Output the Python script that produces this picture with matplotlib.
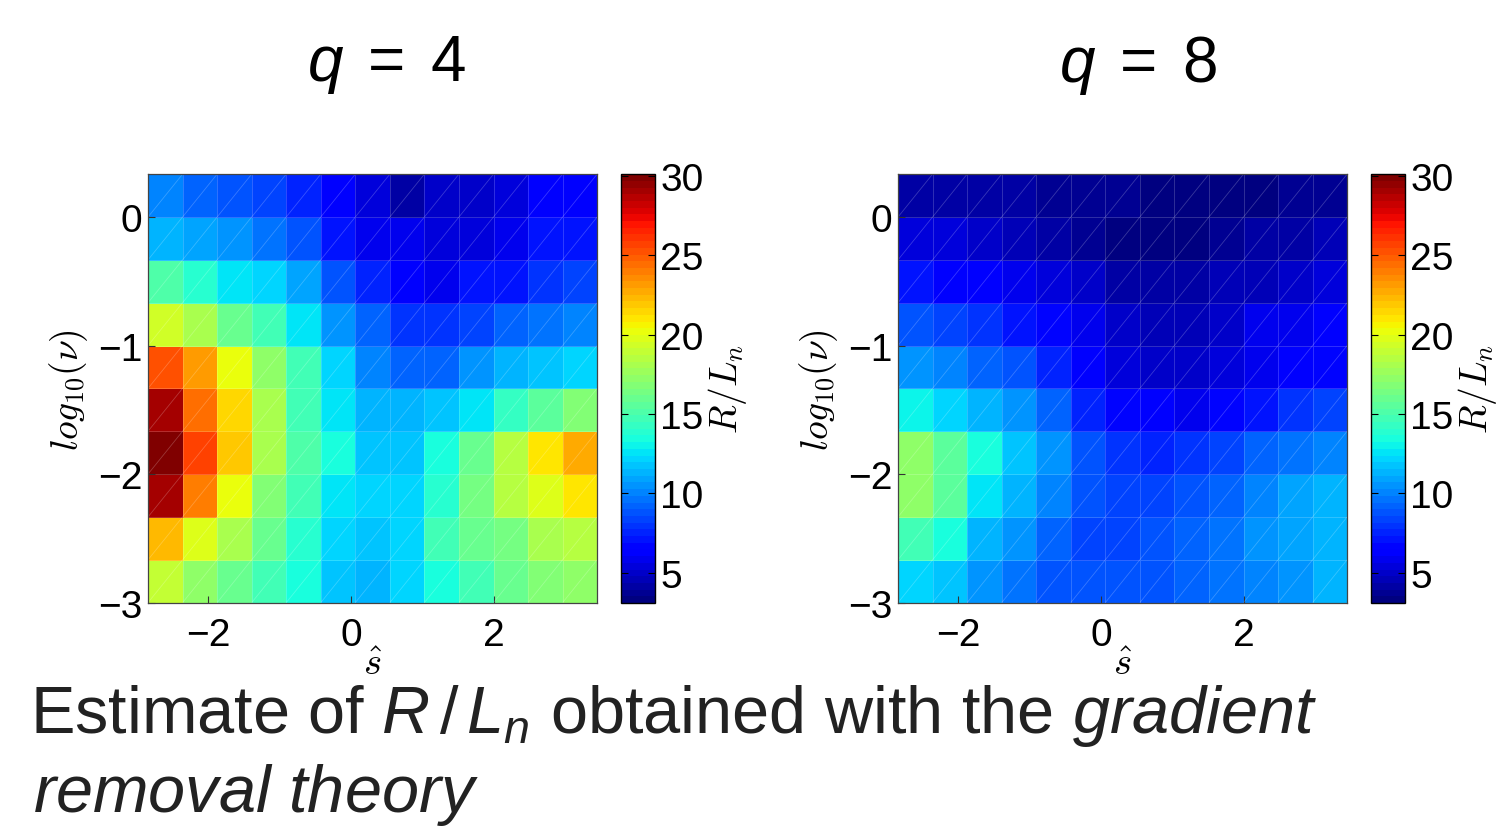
import numpy as np
import matplotlib
matplotlib.use("Agg")
import matplotlib.pyplot as plt
from matplotlib.collections import LineCollection

plt.rcParams['font.family'] = ['Liberation Sans', 'DejaVu Sans']
plt.rcParams['mathtext.fontset'] = 'custom'
plt.rcParams['mathtext.rm'] = 'Liberation Sans'
plt.rcParams['mathtext.it'] = 'Liberation Sans:italic'
plt.rcParams['axes.unicode_minus'] = True

# grid: magnetic shear (columns) and log10 collisionality (rows)
s_hat = np.linspace(-2.6, 3.2, 13)
log_nu = np.linspace(-2.83, 0.17, 10)

# R/L_n estimates, rows listed from top (log_nu = 0.17) to bottom (log_nu = -2.83)
rln_q4 = [
    [10.0, 9.3, 9.0, 8.3, 7.7, 6.1, 5.6, 4.0, 4.8, 5.0, 5.3, 6.1, 6.2],
    [11.5, 11.0, 10.3, 9.6, 8.6, 7.3, 5.9, 5.7, 5.6, 5.6, 5.9, 7.0, 7.3],
    [15.0, 14.0, 12.5, 12.0, 10.9, 9.0, 7.7, 6.1, 5.9, 7.0, 7.3, 8.0, 8.3],
    [19.3, 18.0, 15.9, 14.9, 12.6, 10.6, 9.3, 8.0, 7.8, 8.3, 9.3, 9.6, 10.0],
    [25.3, 23.0, 20.3, 17.2, 14.5, 12.0, 10.0, 9.3, 9.3, 10.6, 11.4, 11.8, 12.3],
    [28.9, 24.6, 21.5, 18.0, 14.9, 12.5, 11.5, 11.2, 11.6, 12.6, 14.3, 15.5, 16.9],
    [29.8, 25.7, 22.0, 18.0, 15.2, 13.4, 11.8, 11.9, 13.6, 16.1, 18.4, 21.2, 22.8],
    [28.9, 24.0, 20.3, 16.8, 14.5, 12.6, 12.3, 12.3, 14.0, 16.5, 18.4, 19.7, 21.2],
    [22.2, 19.7, 18.0, 15.9, 14.0, 12.0, 11.9, 12.3, 14.5, 15.9, 16.5, 18.0, 18.4],
    [19.0, 17.2, 15.9, 14.8, 13.4, 11.8, 11.4, 12.3, 13.4, 14.8, 15.9, 16.9, 17.2],
]
rln_q8 = [
    [4.1, 4.1, 4.0, 4.0, 3.9, 3.8, 3.6, 3.5, 3.5, 3.3, 3.5, 3.8, 3.9],
    [5.4, 5.3, 4.9, 4.6, 4.3, 3.9, 3.3, 3.2, 3.3, 3.8, 4.0, 4.3, 4.4],
    [7.0, 6.3, 6.1, 5.9, 5.3, 5.1, 4.3, 4.0, 4.0, 4.4, 4.6, 5.0, 5.3],
    [8.6, 8.3, 8.0, 7.2, 6.6, 5.9, 5.0, 4.4, 4.6, 5.2, 5.7, 5.9, 6.2],
    [10.6, 10.0, 9.1, 8.6, 7.7, 6.2, 5.3, 4.9, 4.8, 5.3, 5.9, 6.2, 6.6],
    [13.0, 12.3, 11.2, 10.3, 9.1, 7.5, 6.6, 6.2, 6.0, 6.6, 7.3, 7.8, 8.3],
    [17.2, 15.5, 13.4, 11.6, 10.3, 9.0, 8.0, 7.5, 8.0, 8.3, 9.1, 9.6, 10.0],
    [17.2, 15.5, 12.5, 11.4, 10.2, 8.6, 8.3, 8.3, 8.6, 9.3, 10.2, 10.9, 11.2],
    [14.8, 13.4, 11.5, 10.3, 9.3, 8.3, 8.3, 8.6, 9.1, 9.6, 10.3, 10.9, 11.4],
    [12.3, 11.6, 10.6, 9.5, 9.0, 8.6, 8.6, 9.0, 9.3, 9.6, 10.2, 10.6, 11.4],
]
q_values = [4, 8]
cbar_ticks = [5, 10, 15, 20, 25, 30]
vmin, vmax = 3.1, 30.1

fig = plt.figure(figsize=(14.97, 8.28), dpi=100)
cmap = plt.get_cmap('jet', 64)

ax_boxes = [[0.0989, 0.2705, 0.300, 0.518], [0.5999, 0.2705, 0.300, 0.518]]
cb_boxes = [[0.4148, 0.2705, 0.0225, 0.518], [0.9158, 0.2705, 0.0225, 0.518]]
title_x = [0.258, 0.760]

for k, (q, data) in enumerate(zip(q_values, [rln_q4, rln_q8])):
    ax = fig.add_axes(ax_boxes[k])
    z = np.flipud(np.array(data))
    mesh = ax.pcolormesh(s_hat, log_nu, z, shading='nearest', cmap=cmap,
                         vmin=vmin, vmax=vmax,
                         edgecolors=(1, 1, 1, 0.18), linewidth=0.6)
    # faint triangle edges, like the original vector export
    xe = mesh._coordinates[0, :, 0]
    ye = mesh._coordinates[:, 0, 1]
    segs = [[(xe[i], ye[j]), (xe[i + 1], ye[j + 1])]
            for i in range(len(xe) - 1) for j in range(len(ye) - 1)]
    ax.add_collection(LineCollection(segs, colors=[(1, 1, 1, 0.22)], linewidths=0.6))
    ax.set_xlim(xe[0], xe[-1])
    ax.set_ylim(ye[0], ye[-1])
    ax.set_xticks([-2, 0, 2])
    ax.set_yticks([-3, -2, -1, 0])
    ax.tick_params(direction='in', labelsize=28, length=5, width=0.8,
                   top=False, right=False, color='#333333')
    ax.tick_params(axis='x', pad=10)
    ax.tick_params(axis='y', pad=4)
    for sp in ax.spines.values():
        sp.set_color('#444444')
        sp.set_linewidth(0.9)
    ax.set_xlabel(r'$\hat{s}$', fontsize=28, math_fontfamily='cm', labelpad=-5)
    ax.set_ylabel(r'$log_{10}(\nu)$', fontsize=27, math_fontfamily='cm', labelpad=6)

    cax = fig.add_axes(cb_boxes[k])
    cb = fig.colorbar(mesh, cax=cax)
    cb.set_ticks(cbar_ticks)
    cax.tick_params(direction='in', labelsize=28, length=5, width=0.8,
                    left=True, right=True, pad=4)
    cb.outline.set_linewidth(1.0)
    cb.set_label(r'$R/L_n$', fontsize=27, math_fontfamily='cm', labelpad=2)

    fig.text(title_x[k], 0.921, r'$q\;=\;%d$' % q, fontsize=46,
             ha='center', va='center')

fig.text(0.020, 0.135, r'Estimate of $R\,/\,L_n$ obtained with the $\mathit{gradient}$',
         fontsize=48, ha='left', va='center', color='#222222')
fig.text(0.022, 0.040, r'$\mathit{removal\ theory}$',
         fontsize=48, ha='left', va='center', color='#222222')

fig.savefig('out.png', dpi=100)
